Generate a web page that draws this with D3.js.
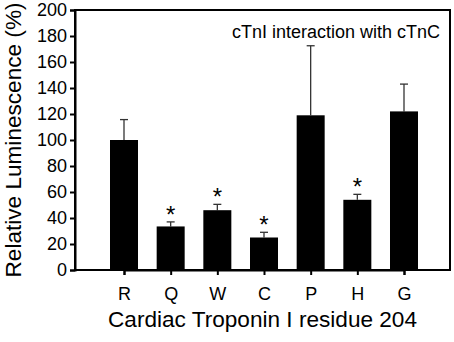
<!DOCTYPE html>
<html>
<head>
<meta charset="utf-8">
<script src="https://cdn.jsdelivr.net/npm/d3@7"></script>
<style>
  body { margin: 0; background: #fff; }
  svg { display: block; font-family: Arial, "Liberation Sans", sans-serif; }
</style>
</head>
<body>
<svg id="chart"></svg>
<script>
const residues = ["R", "Q", "W", "C", "P", "H", "G"];
const luminescence = [100, 33.5, 46, 25, 119, 54, 122];
const errorTop = [115.7, 37, 50.5, 29, 172.5, 58.2, 143];
const significant = [false, true, true, true, false, true, false];
const yTicks = [0, 20, 40, 60, 80, 100, 120, 140, 160, 180, 200];

const width = 454, height = 342;
const margin = { top: 10, right: 4, bottom: 72, left: 75 };
const innerW = width - margin.left - margin.right;
const innerH = height - margin.top - margin.bottom;

const svg = d3.select("#chart").attr("width", width).attr("height", height);
const g = svg.append("g").attr("transform", `translate(${margin.left}, ${margin.top})`);

const x = d3.scalePoint().domain(residues).range([49, 329]);
const y = d3.scaleLinear().domain([0, 200]).range([innerH, 0]);
const barW = 28;

const data = residues.map((r, i) => ({
  r, v: luminescence[i], e: errorTop[i], sig: significant[i]
}));

// error bars (drawn first so bar covers the stem base)
const err = g.append("g").attr("stroke", "#333").attr("stroke-width", 1.3);
err.selectAll(".stem").data(data).join("line")
  .attr("x1", d => x(d.r)).attr("x2", d => x(d.r))
  .attr("y1", d => y(d.v)).attr("y2", d => y(d.e));
err.selectAll(".cap").data(data).join("line")
  .attr("x1", d => x(d.r) - 4).attr("x2", d => x(d.r) + 4)
  .attr("y1", d => y(d.e)).attr("y2", d => y(d.e));

g.selectAll("rect.bar").data(data).join("rect")
  .attr("class", "bar")
  .attr("x", d => x(d.r) - barW / 2)
  .attr("width", barW)
  .attr("y", d => y(d.v))
  .attr("height", d => y(0) - y(d.v))
  .attr("fill", "#000");

g.selectAll("text.star").data(data.filter(d => d.sig)).join("text")
  .attr("class", "star")
  .attr("x", d => x(d.r))
  .attr("y", d => y(d.e) + 1)
  .attr("text-anchor", "middle")
  .attr("font-size", 24)
  .text("*");

// frame
g.append("rect")
  .attr("width", innerW).attr("height", innerH)
  .attr("fill", "none").attr("stroke", "#000").attr("stroke-width", 2);

const yAxis = g.append("g")
  .call(d3.axisLeft(y).tickValues(yTicks).tickSize(5).tickPadding(3));
const xAxis = g.append("g")
  .attr("transform", `translate(0, ${innerH})`)
  .call(d3.axisBottom(x).tickSize(5).tickPadding(12));

[yAxis, xAxis].forEach(a => {
  a.select(".domain").attr("stroke", "#000").attr("stroke-width", 2);
  a.selectAll(".tick line").attr("stroke", "#000").attr("stroke-width", 2);
  a.selectAll(".tick text").attr("font-size", 18).attr("fill", "#000")
    .attr("font-family", "Arial, 'Liberation Sans', sans-serif");
});

g.append("text")
  .attr("x", innerW - 10)
  .attr("y", 28)
  .attr("text-anchor", "end")
  .attr("font-size", 18)
  .text("cTnI interaction with cTnC");

svg.append("text")
  .attr("x", margin.left + innerW / 2)
  .attr("y", 327)
  .attr("text-anchor", "middle")
  .attr("font-size", 22.6)
  .text("Cardiac Troponin I residue 204");

svg.append("text")
  .attr("transform", `translate(21, ${margin.top + innerH / 2}) rotate(-90)`)
  .attr("text-anchor", "middle")
  .attr("font-size", 22.6)
  .text("Relative Luminescence (%)");
</script>
</body>
</html>
